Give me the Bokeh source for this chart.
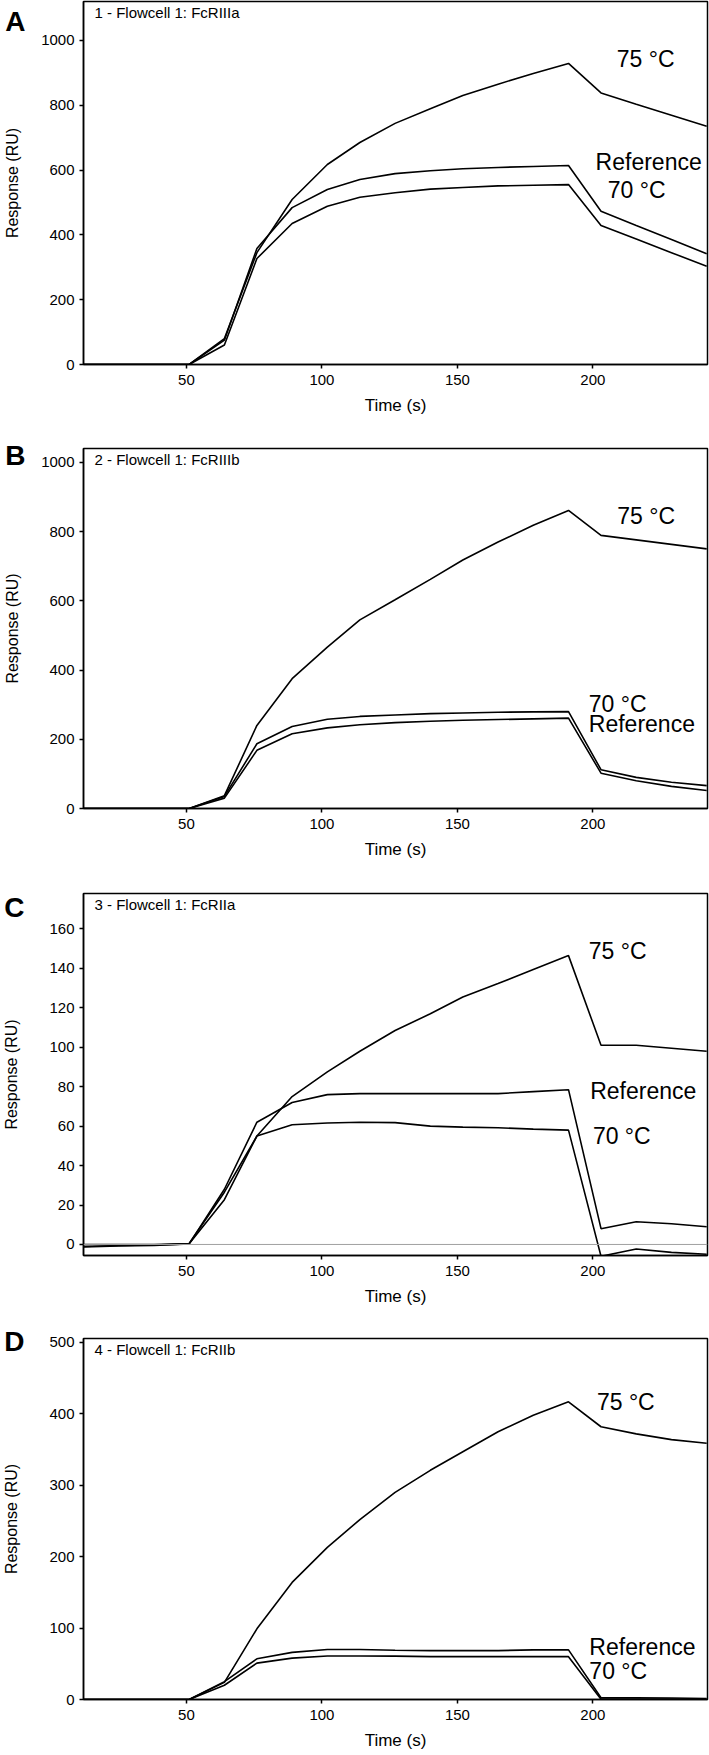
from bokeh.plotting import figure
from bokeh.layouts import column
from bokeh.models import Range1d, FixedTicker, Label, Span, LinearAxis
from bokeh.embed import file_html
from bokeh.resources import INLINE

FONT = "Liberation Sans"

# ---- data ----
time_s = [12, 25, 38, 51, 64, 76, 89, 102, 114, 127, 140, 152, 165, 178, 191, 203, 216, 229, 242]

a_75C = [0, 0, 0, 0, 80, 345, 509, 617, 685, 744, 789, 830, 865, 898, 929, 838, 803, 769, 735]
a_ref = [0, 0, 0, 0, 75, 358, 484, 540, 571, 589, 598, 604, 608, 611, 614, 473, 429, 386, 342]
a_70C = [0, 0, 0, 0, 60, 327, 435, 488, 516, 530, 541, 546, 551, 553, 555, 429, 387, 345, 303]

b_75C = [0, 0, 0, 0, 37, 240, 375, 466, 545, 603, 662, 718, 770, 818, 861, 789, 776, 763, 750]
b_ref = [0, 0, 0, 0, 30, 168, 216, 233, 242, 248, 252, 255, 257, 259, 261, 102, 80, 64, 52]
b_70C = [0, 0, 0, 0, 35, 187, 237, 258, 266, 270, 274, 276, 278, 279, 280, 112, 90, 76, 66]

c_75C = [0, 0, 0, 0.5, 26.5, 55, 75, 87.5, 98, 108.5, 117, 125.5, 132.3, 139.5, 146.5, 101, 101, 99.5, 98]
c_ref = [-1, -0.5, -0.3, 0.3, 28, 62, 72, 76, 76.5, 76.5, 76.5, 76.5, 76.5, 77.5, 78.5, 8, 11.5, 10.5, 9]
c_70C = [-1.3, -0.8, -0.5, 0.3, 22.7, 55, 60.7, 61.6, 62, 61.8, 60, 59.5, 59.2, 58.5, 58, -6, -2.3, -4, -5]

d_75C = [0, 0, 0, 0, 24, 99, 164, 213, 252, 290, 321, 347, 375, 398, 417, 382, 372, 364, 359]
d_ref = [0, 0, 0, 0, 25, 57, 66, 70, 70, 69, 68.5, 68.5, 68.5, 69.5, 69.5, 2.5, 2.5, 2, 1.5]
d_70C = [0, 0, 0, 0, 20, 51, 58, 61, 61, 60.7, 60, 60, 60, 60, 60, 0.5, 0.5, 0.5, 0]

x_ticks = [50, 100, 150, 200]
a_yticks = [0, 200, 400, 600, 800, 1000]
b_yticks = [0, 200, 400, 600, 800, 1000]
c_yticks = [0, 20, 40, 60, 80, 100, 120, 140, 160]
d_yticks = [0, 100, 200, 300, 400, 500]

panel_letters = ["A", "B", "C", "D"]
panel_titles = ["1 - Flowcell 1: FcRIIIa", "2 - Flowcell 1: FcRIIIb",
                "3 - Flowcell 1: FcRIIa", "4 - Flowcell 1: FcRIIb"]
series_names = ["75 \u00b0C", "Reference", "70 \u00b0C"]

LEFT = 76


def make_panel(letter, letter_at, title, series, yticks, yrange, height, top, bottom,
               label_pos, letter_standoff, zero_line=False):
    frame_h = height - top - bottom
    p = figure(width=709, height=height, output_backend="svg", toolbar_location=None,
               x_range=Range1d(12, 242.3), y_range=Range1d(*yrange),
               min_border_left=LEFT, min_border_right=2,
               min_border_top=top, min_border_bottom=bottom)
    p.xgrid.visible = False
    p.ygrid.visible = False
    p.outline_line_color = "black"
    p.outline_line_width = 1.5
    p.background_fill_color = "white"
    p.border_fill_color = "white"

    xa = p.xaxis[0]
    ya = p.yaxis[0]
    for ax in (xa, ya):
        ax.axis_line_width = 1.5
        ax.axis_line_color = "black"
        ax.major_tick_line_width = 1.5
        ax.major_tick_out = 4
        ax.major_tick_in = 0
        ax.minor_tick_line_color = None
        ax.major_label_text_font = FONT
        ax.major_label_text_font_size = "15px"
        ax.major_label_text_color = "black"
        ax.axis_label_text_font = FONT
        ax.axis_label_text_font_size = "17px"
        ax.axis_label_text_font_style = "normal"
        ax.axis_label_text_color = "black"

    xa.ticker = FixedTicker(ticks=x_ticks)
    ya.ticker = FixedTicker(ticks=yticks)
    xa.axis_label = "Time (s)"
    xa.major_label_standoff = 6
    xa.axis_label_standoff = 8
    ya.major_label_standoff = 5

    # outer left axis: carries the panel letter (as its single tick label) and the axis title
    outer = LinearAxis(ticker=FixedTicker(ticks=[letter_at]),
                       major_label_overrides={letter_at: letter},
                       axis_line_color=None, major_tick_line_color=None,
                       minor_tick_line_color=None, major_tick_out=0, major_tick_in=0,
                       minor_tick_out=0, minor_tick_in=0,
                       major_label_text_font=FONT, major_label_text_font_size="28px",
                       major_label_text_font_style="bold", major_label_text_color="black",
                       major_label_standoff=letter_standoff,
                       axis_label="Response (RU)", axis_label_text_font=FONT,
                       axis_label_text_font_size="16px", axis_label_text_font_style="normal",
                       axis_label_text_color="black", axis_label_standoff=-19)
    p.add_layout(outer, "left")

    if zero_line:
        p.add_layout(Span(location=0, dimension="width", line_color="#a0a0a0", line_width=1))

    for ys in series:
        p.line(time_s, ys, line_color="black", line_width=1.6)

    for name, (lx, ly) in zip(series_names, label_pos):
        p.add_layout(Label(x=lx, y=ly, text=name, text_font=FONT, text_font_size="23px",
                           text_baseline="middle", text_align="left", text_color="black"))

    p.add_layout(Label(x=11, y=frame_h - 11, x_units="screen", y_units="screen", text=title,
                       text_font=FONT, text_font_size="15px", text_baseline="middle",
                       text_align="left", text_color="black"))
    return p


pA = make_panel(panel_letters[0], 1093, panel_titles[0], [a_75C, a_ref, a_70C], a_yticks, (0, 1120),
                421, 1, 57, [(208.8, 944), (201, 626), (205.5, 537)], 13)
pB = make_panel(panel_letters[1], 1020, panel_titles[1], [b_75C, b_ref, b_70C], b_yticks, (0, 1040),
                444, 27, 57, [(209, 844), (198.5, 243), (198.5, 302)], 13)
pC = make_panel(panel_letters[2], 171, panel_titles[2], [c_75C, c_ref, c_70C], c_yticks, (-5.6, 178),
                447, 28, 57, [(198.5, 149), (199, 78), (200, 54.8)], 22, zero_line=True)
pD = make_panel(panel_letters[3], 501, panel_titles[3], [d_75C, d_ref, d_70C], d_yticks, (0, 505.6),
                442, 26, 55, [(201.5, 416), (198.7, 74), (198.7, 40.6)], 22)

layout = column(pA, pB, pC, pD, spacing=0)
open("out.html", "w").write(file_html(layout, INLINE))
